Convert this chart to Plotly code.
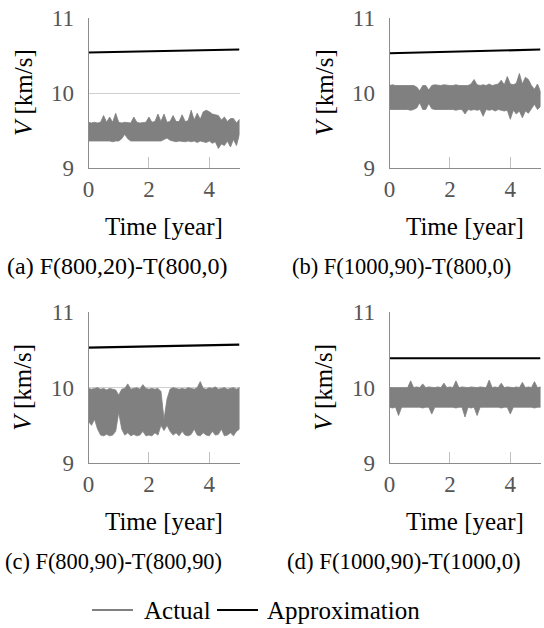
import plotly.graph_objects as go

# ---- data -------------------------------------------------------------
# sample times of the velocity envelope [year]
t_env = [round(0.1 * k, 1) for k in range(51)]

# upper / lower envelope of the actual velocity [km/s]
hi_a = [9.61, 9.60, 9.61, 9.60, 9.61, 9.70, 9.61, 9.68, 9.61, 9.73,
        9.61, 9.60, 9.61, 9.61, 9.60, 9.68, 9.61, 9.60, 9.61, 9.61,
        9.68, 9.61, 9.62, 9.72, 9.62, 9.72, 9.61, 9.62, 9.70, 9.62,
        9.62, 9.71, 9.62, 9.63, 9.77, 9.64, 9.73, 9.65, 9.75, 9.77,
        9.75, 9.72, 9.71, 9.70, 9.64, 9.68, 9.62, 9.66, 9.66, 9.60, 9.65]
lo_a = [9.36, 9.36, 9.35, 9.36, 9.36, 9.35, 9.36, 9.36, 9.35, 9.36,
        9.36, 9.39, 9.45, 9.39, 9.36, 9.35, 9.36, 9.36, 9.35, 9.36,
        9.36, 9.35, 9.36, 9.36, 9.36, 9.38, 9.40, 9.37, 9.36, 9.35,
        9.36, 9.36, 9.35, 9.36, 9.35, 9.36, 9.34, 9.36, 9.35, 9.34,
        9.36, 9.33, 9.35, 9.26, 9.32, 9.30, 9.36, 9.28, 9.38, 9.30, 9.45]

hi_b = [10.10, 10.11, 10.10, 10.10, 10.11, 10.10, 10.10, 10.11, 10.10, 10.08,
        10.03, 10.10, 10.10, 10.04, 10.10, 10.11, 10.10, 10.10, 10.11, 10.10,
        10.10, 10.10, 10.11, 10.10, 10.10, 10.11, 10.10, 10.12, 10.18, 10.11,
        10.10, 10.11, 10.10, 10.12, 10.10, 10.11, 10.12, 10.17, 10.11, 10.22,
        10.12, 10.11, 10.13, 10.26, 10.12, 10.21, 10.18, 10.10, 10.05, 10.12, 10.02]
lo_b = [9.78, 9.77, 9.78, 9.78, 9.77, 9.78, 9.78, 9.77, 9.78, 9.80,
        9.87, 9.78, 9.78, 9.86, 9.79, 9.78, 9.77, 9.78, 9.78, 9.77,
        9.78, 9.78, 9.77, 9.78, 9.78, 9.72, 9.78, 9.77, 9.78, 9.77,
        9.78, 9.69, 9.78, 9.77, 9.78, 9.76, 9.78, 9.77, 9.76, 9.77,
        9.65, 9.77, 9.72, 9.76, 9.67, 9.76, 9.73, 9.78, 9.85, 9.78, 9.82]

hi_c = [9.99, 9.98, 9.99, 10.00, 9.98, 9.99, 9.97, 9.99, 9.98, 9.97,
        9.90, 9.98, 9.99, 10.05, 9.98, 9.99, 10.00, 9.98, 10.04, 9.99,
        9.98, 9.99, 9.98, 9.99, 9.95, 9.58, 9.85, 9.98, 10.00, 9.99,
        9.98, 9.99, 9.98, 10.00, 9.99, 9.98, 10.00, 10.08, 9.99, 9.98,
        10.00, 9.99, 10.01, 9.98, 9.99, 10.00, 9.98, 9.99, 10.00, 9.98, 10.00]
lo_c = [9.55, 9.50, 9.58, 9.45, 9.37, 9.36, 9.38, 9.36, 9.37, 9.42,
        9.67, 9.45, 9.37, 9.40, 9.36, 9.38, 9.36, 9.37, 9.42, 9.36,
        9.37, 9.36, 9.40, 9.37, 9.50, 9.43, 9.50, 9.42, 9.37, 9.40,
        9.36, 9.42, 9.37, 9.36, 9.38, 9.45, 9.37, 9.36, 9.40, 9.37,
        9.36, 9.42, 9.37, 9.38, 9.45, 9.36, 9.37, 9.40, 9.36, 9.42, 9.45]

hi_d = [10.00, 10.00, 10.01, 10.00, 10.00, 10.01, 10.00, 10.09, 10.00, 10.01,
        10.00, 10.05, 10.00, 10.01, 10.00, 10.00, 10.01, 10.00, 10.06, 10.00,
        10.01, 10.00, 10.09, 10.00, 10.01, 10.00, 10.00, 10.01, 10.00, 10.00,
        10.01, 10.00, 10.00, 10.10, 10.00, 10.01, 10.00, 10.06, 10.00, 10.01,
        10.00, 10.00, 10.01, 10.00, 10.07, 10.00, 10.01, 10.00, 10.08, 10.00, 10.01]
lo_d = [9.74, 9.73, 9.74, 9.63, 9.74, 9.73, 9.74, 9.74, 9.73, 9.74,
        9.74, 9.73, 9.74, 9.74, 9.65, 9.74, 9.73, 9.74, 9.74, 9.73,
        9.74, 9.74, 9.73, 9.74, 9.74, 9.61, 9.74, 9.73, 9.74, 9.63,
        9.74, 9.73, 9.74, 9.74, 9.73, 9.74, 9.74, 9.73, 9.74, 9.74,
        9.65, 9.74, 9.73, 9.74, 9.74, 9.73, 9.74, 9.74, 9.73, 9.74, 9.74]

# linear approximation: value at t = 0 and t = 5 years
approx_t = [0, 5]
approx_a = [10.54, 10.58]
approx_b = [10.53, 10.58]
approx_c = [10.53, 10.57]
approx_d = [10.39, 10.39]

captions = ["(a) F(800,20)-T(800,0)", "(b) F(1000,90)-T(800,0)",
            "(c) F(800,90)-T(800,90)", "(d) F(1000,90)-T(1000,0)"]
x_ticks = [0, 2, 4]
y_ticks = [9, 10, 11]
legend_labels = ["Actual", "Approximation"]

# ---- figure -----------------------------------------------------------
W, H = 544, 628
SERIF = "'Liberation Serif', 'Times New Roman', serif"
GRAY = "#808080"

def px(x):
    return x / W

def py(y):
    return 1 - y / H

# panel boxes in pixels: (left, right, top, bottom)
boxes = [(88.5, 239.5, 18.0, 168.0), (389.5, 540.5, 18.0, 168.0),
         (88.5, 239.5, 312.3, 463.0), (389.5, 540.5, 312.3, 463.0)]
caption_pos = [(117.5, 266.5), (401.0, 266.5), (113.5, 561.0), (403.5, 561.0)]
caption_size = [24, 22.5, 22.4, 22.8]

panels = [(hi_a, lo_a, approx_a), (hi_b, lo_b, approx_b),
          (hi_c, lo_c, approx_c), (hi_d, lo_d, approx_d)]

fig = go.Figure()
annotations = []
shapes = []
layout_axes = {}

for i, ((hi, lo, approx), (l, r, tp, bt)) in enumerate(zip(panels, boxes)):
    n = "" if i == 0 else str(i + 1)
    xa, ya = "x" + n, "y" + n

    # actual velocity: filled band between the envelopes
    fig.add_trace(go.Scatter(
        x=t_env + t_env[::-1], y=hi + lo[::-1],
        xaxis=xa, yaxis=ya, mode="lines", fill="toself",
        fillcolor=GRAY, line=dict(color=GRAY, width=0.8),
        name=legend_labels[0], showlegend=False, hoverinfo="skip"))
    # approximation
    fig.add_trace(go.Scatter(
        x=approx_t, y=approx, xaxis=xa, yaxis=ya, mode="lines",
        line=dict(color="black", width=2.2), name=legend_labels[1],
        showlegend=False))

    layout_axes["xaxis" + n] = dict(
        domain=[px(l), px(r)], anchor=ya, range=[0, 5],
        tickvals=x_ticks, ticks="inside", ticklen=11, tickcolor="#c0c0c0",
        tickwidth=1, showline=True, linecolor="#8c8c8c", linewidth=1,
        showgrid=False, zeroline=False, fixedrange=True, automargin=False,
        tickfont=dict(family=SERIF, size=23, color="#555555"))
    layout_axes["yaxis" + n] = dict(
        domain=[py(bt), py(tp)], anchor=xa, range=[9, 11],
        tickvals=y_ticks, ticks="", showline=True, linecolor="#8c8c8c",
        linewidth=1, showgrid=True, gridcolor="#cfcfcf", gridwidth=1,
        zeroline=False, ticklabelstandoff=9, automargin=False,
        tickfont=dict(family=SERIF, size=23, color="#555555"))

    cx = (l + r) / 2
    cy = (tp + bt) / 2
    annotations.append(dict(
        text="Time [year]", x=px(cx), y=py(bt + 58), xref="paper", yref="paper",
        xanchor="center", yanchor="middle", showarrow=False,
        font=dict(family=SERIF, size=25, color="black")))
    annotations.append(dict(
        text="<i>V</i> [km/s]", x=px(l - 65.5), y=py(cy), xref="paper",
        yref="paper", xanchor="center", yanchor="middle", textangle=-90,
        showarrow=False, font=dict(family=SERIF, size=25, color="black")))
    capx, capy = caption_pos[i]
    annotations.append(dict(
        text=captions[i], x=px(capx), y=py(capy), xref="paper", yref="paper",
        xanchor="center", yanchor="middle", showarrow=False,
        font=dict(family=SERIF, size=caption_size[i], color="black")))

# shared legend below the panels: key line + label for each series
legend_keys = [(92, 133, 142, GRAY), (217, 258, 265, "black")]
for label, (x0, x1, xt, color) in zip(legend_labels, legend_keys):
    shapes.append(dict(type="line", xref="paper", yref="paper",
                       x0=px(x0), x1=px(x1), y0=py(610), y1=py(610),
                       line=dict(color=color, width=2.2)))
    annotations.append(dict(
        text=label, x=px(xt), y=py(610), xref="paper", yref="paper",
        xanchor="left", yanchor="middle", showarrow=False,
        font=dict(family=SERIF, size=25, color="black")))

fig.update_layout(
    width=W, height=H,
    margin=dict(l=0, r=0, t=0, b=0, pad=0, autoexpand=False),
    paper_bgcolor="white", plot_bgcolor="white",
    font=dict(family=SERIF, color="black"),
    annotations=annotations, shapes=shapes,
    showlegend=False,
    **layout_axes)

fig.write_html("out.html")
